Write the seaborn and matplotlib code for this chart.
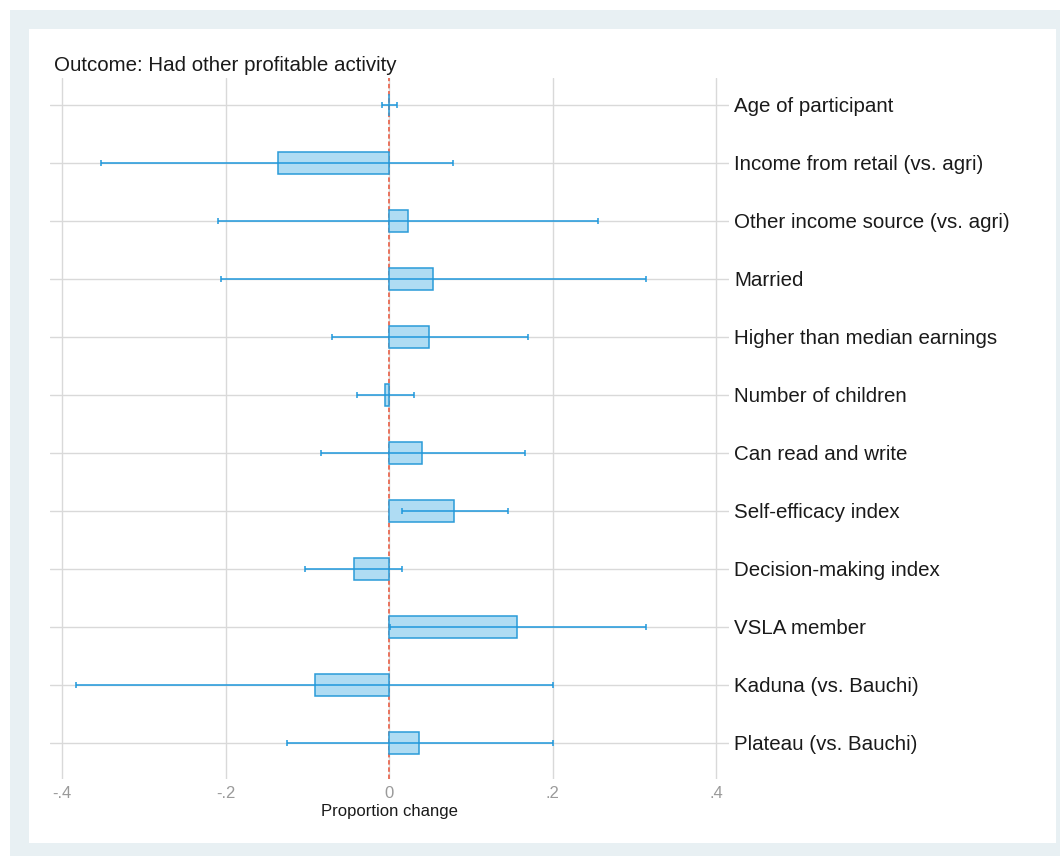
import matplotlib
matplotlib.use("Agg")
import matplotlib.pyplot as plt
from matplotlib.patches import Rectangle
import numpy as np
import pandas as pd
import seaborn as sns

# Coefficients (proportion change) with 95% confidence intervals
variables = [
    "Age of participant",
    "Income from retail (vs. agri)",
    "Other income source (vs. agri)",
    "Married",
    "Higher than median earnings",
    "Number of children",
    "Can read and write",
    "Self-efficacy index",
    "Decision-making index",
    "VSLA member",
    "Kaduna (vs. Bauchi)",
    "Plateau (vs. Bauchi)",
]
estimate = [0.0005, -0.1354, 0.0233, 0.0540, 0.0490, -0.0045,
            0.0400, 0.0800, -0.0424, 0.1570, -0.0905, 0.0370]
ci_low = [-0.0086, -0.3520, -0.2090, -0.2055, -0.0697, -0.0395,
          -0.0830, 0.0160, -0.1030, 0.0010, -0.3825, -0.1250]
ci_high = [0.0094, 0.0787, 0.2557, 0.3140, 0.1700, 0.0300,
           0.1660, 0.1450, 0.0160, 0.3140, 0.2004, 0.2000]
x_ticks = [-0.4, -0.2, 0, 0.2, 0.4]
x_tick_labels = ["-.4", "-.2", "0", ".2", ".4"]
title = "Outcome: Had other profitable activity"
x_title = "Proportion change"

df = pd.DataFrame({"variable": variables, "estimate": estimate,
                   "lo": ci_low, "hi": ci_high})

sns.set_theme(style="white")
plt.rcParams["font.family"] = ["Liberation Sans", "DejaVu Sans"]

W, H = 1060, 856
fig = plt.figure(figsize=(W / 100, H / 100), dpi=100, facecolor="white")

# outer frame and white plot region
fig.patches.append(Rectangle((10 / W, 0), (W - 10) / W, (H - 10) / H,
                             transform=fig.transFigure, facecolor="#e8f0f3",
                             edgecolor="none", zorder=-2))
fig.patches.append(Rectangle((29 / W, (H - 843) / H), (1056 - 29) / W, (843 - 29) / H,
                             transform=fig.transFigure, facecolor="white",
                             edgecolor="none", zorder=-1))

ax = fig.add_axes([50 / W, (H - 779) / H, (729 - 50) / W, (779 - 78) / H])
ax.set_facecolor("none")

fill = "#afdcf3"
edge = "#2a9bd8"
line_blue = "#1f98dc"

sns.barplot(data=df, x="estimate", y="variable", orient="h", width=0.39,
            color=fill, saturation=1, edgecolor=edge, linewidth=1.1,
            errorbar=None, ax=ax, zorder=2)

ypos = np.arange(len(df))
est = df["estimate"].to_numpy()
ax.errorbar(est, ypos,
            xerr=[est - df["lo"].to_numpy(), df["hi"].to_numpy() - est],
            fmt="none", ecolor=line_blue, elinewidth=1.1, capsize=2.2,
            capthick=1.1, zorder=3)

ax.axvline(0, color="#e9735d", lw=1.4, linestyle=(0, (2.3, 1.4)), zorder=1.5)

ax.set_xlim((50 - 389) / 817.5, (729 - 389) / 817.5)
ax.set_ylim(len(df) - 1 + 36 / 58, -27 / 58)

ax.set_xticks(x_ticks)
ax.set_xticklabels(x_tick_labels)
ax.grid(True, color="#d9d9d9", lw=1.0, zorder=0)
ax.set_axisbelow(True)

ax.yaxis.tick_right()
ax.tick_params(axis="y", length=0, pad=3.6, labelsize=14.8, labelcolor="#1a1a1a")
ax.tick_params(axis="x", length=0, pad=5, labelsize=12, labelcolor="#9a9a9a")
for lab in ax.get_xticklabels():
    lab.set_family(["Liberation Sans Narrow", "Liberation Sans", "DejaVu Sans"])
for s in ax.spines.values():
    s.set_visible(False)

ax.set_ylabel("")
ax.set_xlabel(x_title, fontsize=12, color="#1a1a1a", labelpad=2,
              family=["Liberation Sans Narrow", "Liberation Sans", "DejaVu Sans"])

fig.text(54 / W, (H - 71) / H, title, fontsize=14.8, color="#1a1a1a",
         ha="left", va="baseline")

fig.savefig("out.png", dpi=100, facecolor=fig.get_facecolor())
